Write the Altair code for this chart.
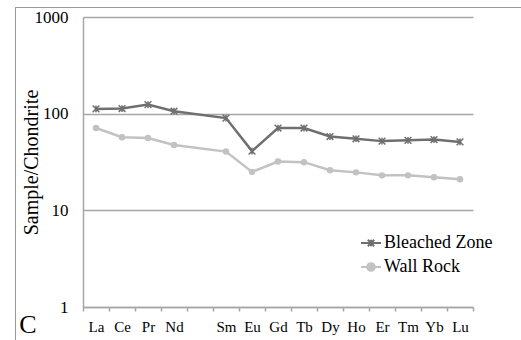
import altair as alt
import pandas as pd

# Chondrite-normalised REE data (Pm not analysed, kept as an empty slot)
elements = ["La", "Ce", "Pr", "Nd", "Pm", "Sm", "Eu", "Gd", "Tb", "Dy", "Ho", "Er", "Tm", "Yb", "Lu"]
measured = ["La", "Ce", "Pr", "Nd", "Sm", "Eu", "Gd", "Tb", "Dy", "Ho", "Er", "Tm", "Yb", "Lu"]
bleached_zone = [112, 113, 124, 106, 90, 41, 71, 71, 58, 55, 52, 53, 54, 51]
wall_rock = [71, 57, 56, 47.5, 40.5, 25, 32, 31.5, 26, 24.7, 23, 23, 22, 21]
series_names = ["Bleached Zone", "Wall Rock"]
series_colors = ["#6f6f6f", "#c2c2c2"]
y_ticks = [1, 10, 100, 1000]

rows = []
for name, vals in zip(series_names, [bleached_zone, wall_rock]):
    for el, v in zip(measured, vals):
        rows.append({"element": el, "series": name, "value": v})
df = pd.DataFrame(rows)

FONT = "Liberation Serif"
AXIS_GRAY = "#a6a6a6"
STAR = "M-1,-1L1,1M-1,1L1,-1M0,-1L0,1"
# legend glyphs: a short line segment with the series marker on it
LEGEND_STAR = "M-1,0L1,0M-0.32,-0.32L0.32,0.32M-0.32,0.32L0.32,-0.32M0,-0.32L0,0.32"
LEGEND_DOT = "M-1,0L-0.38,0M0.38,0L1,0M-0.38,0A0.38,0.38,0,1,0,0.38,0A0.38,0.38,0,1,0,-0.38,0Z"

x_enc = alt.X(
    "element:N",
    scale=alt.Scale(type="band", domain=elements, paddingInner=0, paddingOuter=0),
    axis=alt.Axis(
        title=None, tickBand="extent", labelAngle=0, grid=False,
        labelExpr="datum.value == 'Pm' ? '' : datum.value",
        domainColor=AXIS_GRAY, domainWidth=1.5, tickColor=AXIS_GRAY, tickWidth=1.5,
        tickSize=4, labelFont=FONT, labelFontSize=15, labelColor="black",
        labelPadding=8,
    ),
)
y_enc = alt.Y(
    "value:Q",
    scale=alt.Scale(type="log", domain=[1, 1000]),
    axis=alt.Axis(
        values=y_ticks, format="d", title="Sample/Chondrite", grid=True,
        gridColor=AXIS_GRAY, gridWidth=1.5, ticks=False,
        domainColor=AXIS_GRAY, domainWidth=1.5,
        labelFont=FONT, labelFontSize=17, labelColor="black", labelPadding=15,
        titleFont=FONT, titleFontSize=20, titleFontWeight="normal", titleColor="black",
        titleAngle=-90, titleX=-52, titleY=145, titleAlign="center", titleBaseline="middle",
    ),
)

base = alt.Chart(df)
bleached = base.transform_filter(alt.datum.series == series_names[0])
wall = base.transform_filter(alt.datum.series == series_names[1])

bleached_line = bleached.mark_line(strokeWidth=2.5, color=series_colors[0]).encode(x=x_enc, y=y_enc)
wall_line = wall.mark_line(strokeWidth=2.5, color=series_colors[1]).encode(x=x_enc, y=y_enc)

stars = bleached.mark_point(
    shape=STAR, filled=False, size=45, strokeWidth=1.5, opacity=1, color=series_colors[0]
).encode(x=x_enc, y=y_enc)

dots = wall.mark_point(
    shape="circle", filled=True, size=42, opacity=1, color=series_colors[1]
).encode(x=x_enc, y=y_enc)

# legend carrier: zero-size points, so only the legend is visible
legend_props = dict(
    orient="none", legendX=277, legendY=215, title=None,
    symbolSize=400, symbolStrokeWidth=2,
    rowPadding=4, labelOffset=2,
    labelFont=FONT, labelFontSize=18, labelColor="black",
)
legend_layer = base.mark_point(size=0, strokeWidth=2, opacity=1).encode(
    x=x_enc,
    y=y_enc,
    stroke=alt.Stroke("series:N", scale=alt.Scale(domain=series_names, range=series_colors),
                      legend=alt.Legend(**legend_props)),
    fill=alt.Fill("series:N", scale=alt.Scale(domain=series_names, range=series_colors),
                  legend=alt.Legend(**legend_props)),
    shape=alt.Shape("series:N", scale=alt.Scale(domain=series_names, range=[LEGEND_STAR, LEGEND_DOT]),
                    legend=alt.Legend(**legend_props)),
)

one = alt.Chart(pd.DataFrame({"k": [0]}))

# outer figure frame (top and left edges)
frame_top = one.mark_rule(color="#9a9a9a", strokeWidth=1).encode(
    x=alt.value(-68), x2=alt.value(440), y=alt.value(-9.5)
)
frame_left = one.mark_rule(color="#9a9a9a", strokeWidth=1).encode(
    x=alt.value(-67.5), y=alt.value(-10), y2=alt.value(330)
)

panel_letter = one.mark_text(
    text="C", font=FONT, fontSize=26, align="center", baseline="bottom", color="black"
).encode(x=alt.value(-55), y=alt.value(321))

chart = (
    alt.layer(frame_top, frame_left, bleached_line, wall_line, stars, dots, legend_layer, panel_letter)
    .properties(
        width=390,
        height=290,
        autosize=alt.AutoSizeParams(type="none"),
        padding={"left": 83, "top": 17, "right": 48, "bottom": 33},
        background="white",
    )
    .configure_view(stroke=None)
)

chart.save("out.html", embed_options={"renderer": "svg", "actions": False})
